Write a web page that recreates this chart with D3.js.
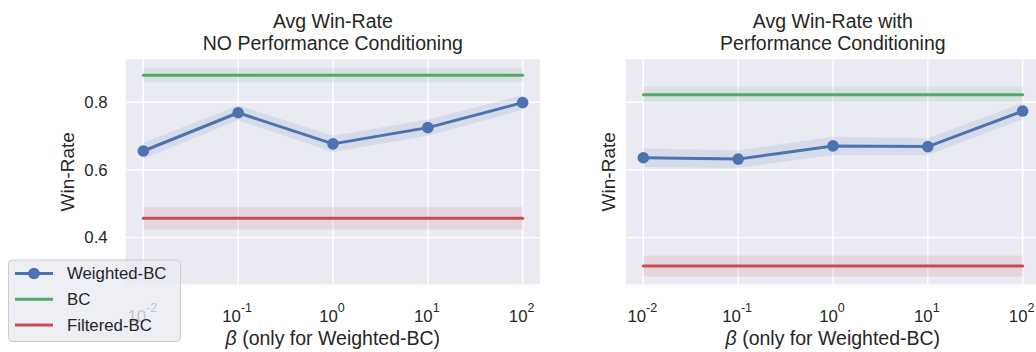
<!DOCTYPE html>
<html>
<head>
<meta charset="utf-8">
<script src="https://cdn.jsdelivr.net/npm/d3@7"></script>
<style>
  body { margin: 0; background: #fff; }
  text { font-family: "Liberation Sans", Arial, sans-serif; fill: #262626; }
</style>
</head>
<body>
<div id="viz"></div>
<script>
// data
const betas = [0.01, 0.1, 1, 10, 100];
const yTicks = [0.4, 0.6, 0.8];
const seriesNames = ["Weighted-BC", "BC", "Filtered-BC"];

const titles = [
  ["Avg Win-Rate", "NO Performance Conditioning"],
  ["Avg Win-Rate with", "Performance Conditioning"]
];

const weightedNoCond = [0.656, 0.769, 0.677, 0.725, 0.799];
const weightedNoCondErr = [0.024, 0.022, 0.024, 0.024, 0.022];
const bcNoCond = 0.880, bcNoCondErr = 0.021;
const filteredNoCond = 0.457, filteredNoCondErr = 0.033;

const weightedCond = [0.636, 0.632, 0.671, 0.669, 0.774];
const weightedCondErr = [0.027, 0.026, 0.027, 0.025, 0.024];
const bcCond = 0.822, bcCondErr = 0.024;
const filteredCond = 0.316, filteredCondErr = 0.031;

const colors = { "Weighted-BC": "#4c72b0", "BC": "#55a868", "Filtered-BC": "#c44e52" };

const panels = [
  { title: titles[0], w: weightedNoCond, wErr: weightedNoCondErr, bc: bcNoCond, bcErr: bcNoCondErr,
    f: filteredNoCond, fErr: filteredNoCondErr, left: 125.7, showYLabels: true, ylabelX: 67 },
  { title: titles[1], w: weightedCond, wErr: weightedCondErr, bc: bcCond, bcErr: bcCondErr,
    f: filteredCond, fErr: filteredCondErr, left: 625.7, showYLabels: false, ylabelX: 608 }
];

const width = 1036, height = 352;
const axW = 414.3, axTop = 59.3, axH = 225;

const svg = d3.select("#viz").append("svg")
  .attr("width", width).attr("height", height);

// shared y scale
const y = d3.scaleLinear().domain([0.262, 0.927]).range([axTop + axH, axTop]);

panels.forEach(p => {
  const x = d3.scaleLog()
    .domain([Math.pow(10, -2.186), Math.pow(10, 2.183)])
    .range([p.left, p.left + axW]);

  const g = svg.append("g");

  // background
  g.append("rect")
    .attr("x", p.left).attr("y", axTop)
    .attr("width", axW).attr("height", axH)
    .attr("fill", "#eaeaf2");

  // grid
  g.selectAll(".gx").data(betas).enter().append("line")
    .attr("x1", d => x(d)).attr("x2", d => x(d))
    .attr("y1", axTop).attr("y2", axTop + axH)
    .attr("stroke", "#fff").attr("stroke-width", 1.4);
  g.selectAll(".gy").data(yTicks).enter().append("line")
    .attr("x1", p.left).attr("x2", p.left + axW)
    .attr("y1", d => y(d)).attr("y2", d => y(d))
    .attr("stroke", "#fff").attr("stroke-width", 1.4);

  // y tick labels
  if (p.showYLabels) {
    g.selectAll(".yl").data(yTicks).enter().append("text")
      .attr("x", p.left - 18).attr("y", d => y(d))
      .attr("dy", "0.35em")
      .attr("text-anchor", "end")
      .style("font-size", "16.8px")
      .text(d => d.toFixed(1));
  }

  // x tick labels: 10^k
  const xl = g.selectAll(".xl").data(betas).enter().append("text")
    .attr("x", d => x(d) - 1).attr("y", 321.5)
    .attr("text-anchor", "middle")
    .style("font-size", "16.8px");
  xl.append("tspan").text("10");
  xl.append("tspan")
    .attr("dy", -10)
    .style("font-size", "12.5px")
    .text(d => {
      const e = Math.round(Math.log10(d));
      return e < 0 ? "-" + (-e) : String(e);
    });

  // axis labels
  g.append("text")
    .attr("x", p.left + axW / 2).attr("y", 345)
    .attr("text-anchor", "middle")
    .style("font-size", "19.5px")
    .html('<tspan font-style="italic">β</tspan> (only for Weighted-BC)');

  g.append("text")
    .attr("transform", `translate(${p.ylabelX},${axTop + axH / 2}) rotate(-90)`)
    .attr("dy", "0.35em")
    .attr("text-anchor", "middle")
    .style("font-size", "19px")
    .text("Win-Rate");

  // title
  g.selectAll(".title").data(p.title).enter().append("text")
    .attr("x", p.left + axW / 2)
    .attr("y", (d, i) => 28 + i * 21.5)
    .attr("text-anchor", "middle")
    .style("font-size", "19.5px")
    .text(d => d);

  const x0 = betas[0], x1 = betas[betas.length - 1];

  // constant baselines with bands
  [[p.bc, p.bcErr, "BC"], [p.f, p.fErr, "Filtered-BC"]].forEach(([v, e, name]) => {
    g.append("rect")
      .attr("x", x(x0)).attr("width", x(x1) - x(x0))
      .attr("y", y(v + e)).attr("height", y(v - e) - y(v + e))
      .attr("fill", colors[name]).attr("fill-opacity", 0.12);
    g.append("line")
      .attr("x1", x(x0)).attr("x2", x(x1))
      .attr("y1", y(v)).attr("y2", y(v))
      .attr("stroke", colors[name]).attr("stroke-width", 3)
      .attr("stroke-linecap", "round");
  });

  // weighted-BC band, line and markers
  const pts = betas.map((b, i) => ({ b, v: p.w[i], e: p.wErr[i] }));
  g.append("path").datum(pts)
    .attr("d", d3.area().x(d => x(d.b)).y0(d => y(d.v - d.e)).y1(d => y(d.v + d.e)))
    .attr("fill", colors["Weighted-BC"]).attr("fill-opacity", 0.12);
  g.append("path").datum(pts)
    .attr("d", d3.line().x(d => x(d.b)).y(d => y(d.v)))
    .attr("fill", "none")
    .attr("stroke", colors["Weighted-BC"]).attr("stroke-width", 3)
    .attr("stroke-linejoin", "round");
  g.selectAll(".pt").data(pts).enter().append("circle")
    .attr("cx", d => x(d.b)).attr("cy", d => y(d.v)).attr("r", 5.8)
    .attr("fill", colors["Weighted-BC"]);
});

// legend (drawn over the left panel)
const lg = svg.append("g");
lg.append("rect")
  .attr("x", 8.5).attr("y", 260).attr("width", 172).attr("height", 81.5)
  .attr("rx", 4)
  .attr("fill", "#eaeaf2").attr("fill-opacity", 0.8)
  .attr("stroke", "#cccccc").attr("stroke-width", 1);
const items = lg.selectAll(".item").data(seriesNames).enter().append("g")
  .attr("transform", (d, i) => `translate(0,${273.5 + i * 25.8})`);
items.append("line")
  .attr("x1", 15).attr("x2", 53)
  .attr("stroke", d => colors[d]).attr("stroke-width", 3);
items.filter(d => d === "Weighted-BC").append("circle")
  .attr("cx", 34).attr("r", 5.8).attr("fill", colors["Weighted-BC"]);
items.append("text")
  .attr("x", 67).attr("dy", "0.35em")
  .style("font-size", "16.8px")
  .text(d => d);
</script>
</body>
</html>
